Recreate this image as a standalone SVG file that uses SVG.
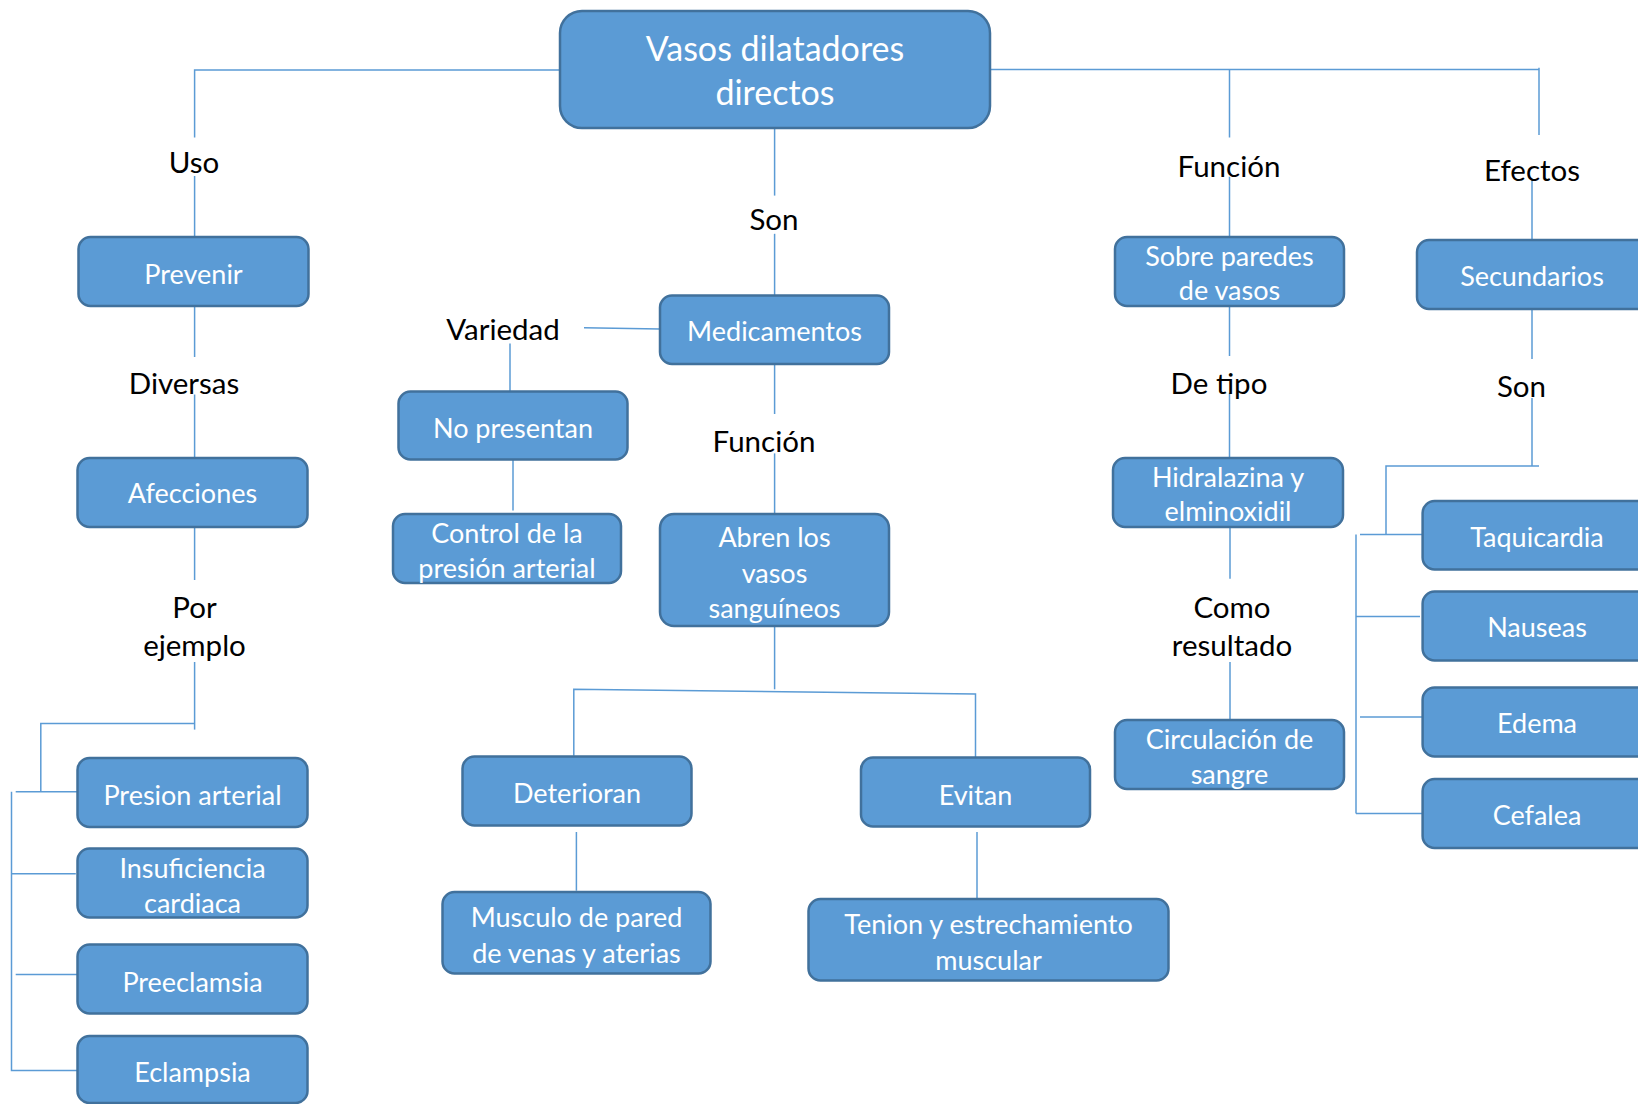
<svg xmlns="http://www.w3.org/2000/svg" width="1638" height="1104" viewBox="0 0 1638 1104">
<style>
.box{fill:#5B9BD5;stroke:#41719C;stroke-width:2.5}
.bt{fill:#fff;font-family:Lato,"Open Sans",sans-serif;font-size:27px;text-anchor:middle}
.lb{fill:#000;font-family:Lato,"Open Sans",sans-serif;font-size:29.5px;text-anchor:middle}
.tt{fill:#fff;font-family:Lato,"Open Sans",sans-serif;font-size:34px;text-anchor:middle}
.cn{fill:none;stroke:#5B9BD5;stroke-width:1.5}
</style>
<rect width="1638" height="1104" fill="#fff"/>
<g id="connectors" class="cn">
<path d="M560 70 H194.6 V137.5"/>
<path d="M194.6 176 V237"/>
<path d="M194.6 306 V357"/>
<path d="M194.6 394.5 V458"/>
<path d="M194.6 527 V580"/>
<path d="M194.6 662 V729.6"/>
<path d="M194.6 723.4 H40.8 V791.8"/>
<path d="M15.7 791.8 H77.4"/>
<path d="M11.5 791.8 V1070.6 H77.4"/>
<path d="M11.5 873.8 H75.8"/>
<path d="M15.7 974.5 H77.4"/>
<path d="M774.6 128 V195.6"/>
<path d="M774.6 233.8 V295.6"/>
<path d="M584 327.7 L660 329"/>
<path d="M510 343.4 V391.6"/>
<path d="M513 459.8 V510.5"/>
<path d="M774.6 364 V414"/>
<path d="M774.6 453.4 V513"/>
<path d="M774.6 626 V689.3"/>
<path d="M573.8 755.8 V689.3 L975.5 694 V757.6"/>
<path d="M576.4 832 V890.7"/>
<path d="M977 832 V898"/>
<path d="M990 69.6 H1539"/>
<path d="M1539 67.8 V135"/>
<path d="M1229.5 69.6 V137.5"/>
<path d="M1229.5 176.7 V237"/>
<path d="M1532 178.5 V240"/>
<path d="M1229.5 306 V356"/>
<path d="M1229.5 392.7 V457.7"/>
<path d="M1230 526.6 V578.8"/>
<path d="M1230 662 V719"/>
<path d="M1532 309 V359"/>
<path d="M1532 398 V466"/>
<path d="M1539 466 H1386 V534.5"/>
<path d="M1360 534.5 H1422.6"/>
<path d="M1356 534.5 V813.4"/>
<path d="M1356 616.6 H1420"/>
<path d="M1360 717 H1422.6"/>
<path d="M1356 813.4 H1422.6"/>
</g>
<g id="labels">
<text class="lb" x="194" y="172.5">Uso</text>
<text class="lb" x="184" y="393.5">Diversas</text>
<text class="lb" x="194.5" y="618">Por</text>
<text class="lb" x="194.5" y="656">ejemplo</text>
<text class="lb" x="774" y="230">Son</text>
<text class="lb" x="503" y="339.5">Variedad</text>
<text class="lb" x="764" y="452">Función</text>
<text class="lb" x="1229" y="176.5">Función</text>
<text class="lb" x="1532" y="180.5">Efectos</text>
<text class="lb" x="1219" y="394">De tipo</text>
<text class="lb" x="1521.5" y="396.5">Son</text>
<text class="lb" x="1232" y="618">Como</text>
<text class="lb" x="1232" y="656">resultado</text>
</g>
<g id="n-main"><rect class="box" x="560" y="11" width="430" height="117" rx="22"/><text class="tt" x="775" y="60.5">Vasos dilatadores</text><text class="tt" x="775" y="105">directos</text></g>
<g id="n-prevenir"><rect class="box" x="78.5" y="237" width="230" height="69" rx="12"/><text class="bt" x="193.5" y="283.5">Prevenir</text></g>
<g id="n-afecciones"><rect class="box" x="77.5" y="458" width="230" height="69" rx="12"/><text class="bt" x="192.5" y="503">Afecciones</text></g>
<g id="n-presion"><rect class="box" x="77.5" y="758" width="230" height="69" rx="12"/><text class="bt" x="192.5" y="804.5">Presion arterial</text></g>
<g id="n-insuficiencia"><rect class="box" x="77.5" y="848.5" width="230" height="69" rx="12"/><text class="bt" x="192.5" y="877.5">Insuficiencia</text><text class="bt" x="192.5" y="912.5">cardiaca</text></g>
<g id="n-preeclamsia"><rect class="box" x="77.5" y="944.5" width="230" height="69" rx="12"/><text class="bt" x="192.5" y="991.5">Preeclamsia</text></g>
<g id="n-eclampsia"><rect class="box" x="77.5" y="1036" width="230" height="67" rx="12"/><text class="bt" x="192.5" y="1081.5">Eclampsia</text></g>
<g id="n-nopresentan"><rect class="box" x="398.5" y="391.5" width="229" height="68" rx="12"/><text class="bt" x="513" y="437.5">No presentan</text></g>
<g id="n-control"><rect class="box" x="393" y="514" width="228" height="69" rx="12"/><text class="bt" x="507" y="542.5">Control de la</text><text class="bt" x="507" y="577.5">presión arterial</text></g>
<g id="n-medicamentos"><rect class="box" x="660" y="295.5" width="229" height="68.5" rx="12"/><text class="bt" x="774.5" y="340.5">Medicamentos</text></g>
<g id="n-abren"><rect class="box" x="660" y="514" width="229" height="112" rx="14"/><text class="bt" x="774.5" y="546.5">Abren los</text><text class="bt" x="774.5" y="582.5">vasos</text><text class="bt" x="774.5" y="617.5">sanguíneos</text></g>
<g id="n-deterioran"><rect class="box" x="462.5" y="756.5" width="229" height="69" rx="12"/><text class="bt" x="577" y="802.5">Deterioran</text></g>
<g id="n-musculo"><rect class="box" x="442.5" y="892" width="268" height="81.5" rx="12"/><text class="bt" x="576.5" y="926.5">Musculo de pared</text><text class="bt" x="576.5" y="962.5">de venas y aterias</text></g>
<g id="n-evitan"><rect class="box" x="861" y="757.5" width="229" height="69" rx="12"/><text class="bt" x="975.5" y="804.5">Evitan</text></g>
<g id="n-tenion"><rect class="box" x="808.5" y="899" width="360" height="81.5" rx="12"/><text class="bt" x="988.5" y="933.5">Tenion y estrechamiento</text><text class="bt" x="988.5" y="969.5">muscular</text></g>
<g id="n-sobre"><rect class="box" x="1115" y="237" width="229" height="69" rx="12"/><text class="bt" x="1229.5" y="265.5">Sobre paredes</text><text class="bt" x="1229.5" y="300">de vasos</text></g>
<g id="n-hidralazina"><rect class="box" x="1113" y="458" width="230" height="69" rx="12"/><text class="bt" x="1228" y="487">Hidralazina y</text><text class="bt" x="1228" y="521">elminoxidil</text></g>
<g id="n-circulacion"><rect class="box" x="1115" y="720" width="229" height="69" rx="12"/><text class="bt" x="1229.5" y="748.5">Circulación de</text><text class="bt" x="1229.5" y="783.5">sangre</text></g>
<g id="n-secundarios"><rect class="box" x="1417" y="240" width="240" height="69" rx="12"/><text class="bt" x="1532" y="285.5">Secundarios</text></g>
<g id="n-taquicardia"><rect class="box" x="1422.6" y="501" width="240" height="68.5" rx="12"/><text class="bt" x="1537" y="546.5">Taquicardia</text></g>
<g id="n-nauseas"><rect class="box" x="1422.6" y="591.5" width="240" height="69" rx="12"/><text class="bt" x="1537" y="636.5">Nauseas</text></g>
<g id="n-edema"><rect class="box" x="1422.6" y="687.5" width="240" height="69" rx="12"/><text class="bt" x="1537" y="732.5">Edema</text></g>
<g id="n-cefalea"><rect class="box" x="1422.6" y="779" width="240" height="69" rx="12"/><text class="bt" x="1537" y="824.5">Cefalea</text></g>
</svg>
